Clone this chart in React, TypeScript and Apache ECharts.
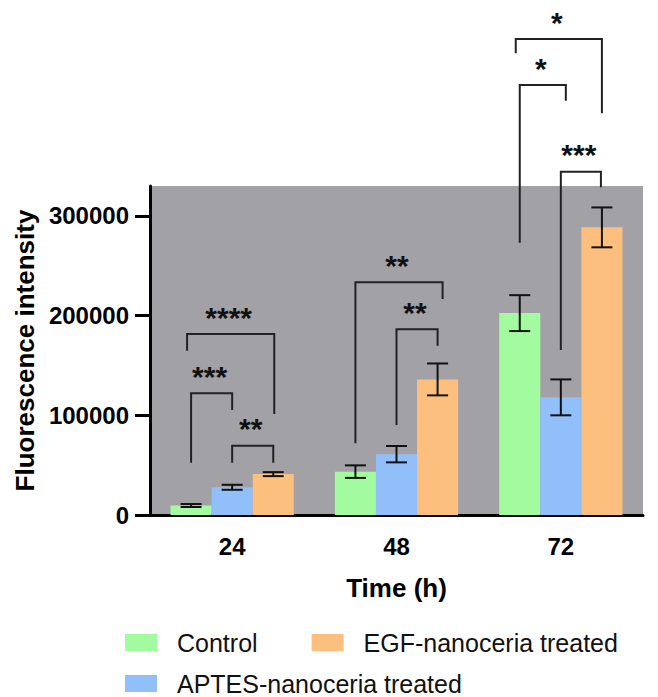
import React, { useEffect, useRef } from "react";
import * as echarts from "echarts";

const categories = ["24", "48", "72"];
const seriesNames = ["Control", "APTES-nanoceria treated", "EGF-nanoceria treated"];
const controlMean = [9500, 43500, 202500];
const controlSD = [1500, 6300, 18000];
const aptesMean = [27800, 61000, 118000];
const aptesSD = [2500, 8200, 18000];
const egfMean = [41000, 136000, 288500];
const egfSD = [2000, 16000, 20000];
const yTickValues = [0, 100000, 200000, 300000];
const colors = ["#a2fb9e", "#91bff9", "#fdbf7e"];

// significance brackets: group index, bar indices, heights (data units), label
const brackets = [
  { group: 0, from: 0, to: 1, top: 122000, leftEnd: 52500, rightEnd: 105300, label: "***", dl: 0, dr: 0 },
  { group: 0, from: 0, to: 2, top: 181500, leftEnd: 164800, rightEnd: 101300, label: "****", dl: -4, dr: 1 },
  { group: 0, from: 1, to: 2, top: 69500, leftEnd: 52500, rightEnd: 52500, label: "**", dl: 0, dr: 0 },
  { group: 1, from: 0, to: 2, top: 233400, leftEnd: 71900, rightEnd: 216600, label: "**", dl: 0, dr: 5 },
  { group: 1, from: 1, to: 2, top: 186300, leftEnd: 90300, rightEnd: 169800, label: "**", dl: 0, dr: 0 },
  { group: 2, from: 0, to: 1, top: 431300, leftEnd: 273100, rightEnd: 415500, label: "*", dl: 0, dr: 5 },
  { group: 2, from: 0, to: 2, top: 477400, leftEnd: 463100, rightEnd: 402900, label: "*", dl: -4, dr: 0 },
  { group: 2, from: 1, to: 2, top: 344300, leftEnd: 165500, rightEnd: 328700, label: "***", dl: 0, dr: -1 },
];

const FONT = '"Liberation Sans", Arial, sans-serif';

export default function App() {
  const ref = useRef<HTMLDivElement>(null);
  useEffect(() => {
    if (!ref.current) return;
    const chart = echarts.init(ref.current, null, { renderer: "svg" });
    const means = [controlMean, aptesMean, egfMean];
    const sds = [controlSD, aptesSD, egfSD];
    const errData: number[][] = [];
    means.forEach((m, s) => m.forEach((v, i) => errData.push([i, v, sds[s][i], s])));

    const barSeries = seriesNames.map((name, s) => ({
      name,
      type: "bar",
      data: means[s],
      itemStyle: { color: colors[s] },
      barGap: "0%",
      barCategoryGap: "25%",
      z: 2,
    }));

    const legendText = {
      fontSize: 25,
      lineHeight: 24,
      fontFamily: FONT,
      color: "#111",
      padding: [0, 0, 0, 15],
    };

    const option: any = {
      animation: false,
      grid: {
        left: 150,
        right: 15,
        top: 186,
        bottom: 182,
        show: true,
        backgroundColor: "#a2a1a6",
        borderWidth: 0,
      },
      legend: [
        {
          data: ["Control", "EGF-nanoceria treated"],
          left: 125,
          top: 630,
          padding: 0,
          icon: "rect",
          itemWidth: 32,
          itemHeight: 17,
          itemGap: 54,
          textStyle: legendText,
        },
        {
          data: ["APTES-nanoceria treated"],
          left: 125,
          top: 671,
          padding: 0,
          icon: "rect",
          itemWidth: 32,
          itemHeight: 17,
          textStyle: legendText,
        },
      ],
      xAxis: {
        type: "category",
        data: categories,
        name: "Time (h)",
        nameLocation: "middle",
        nameGap: 60,
        nameTextStyle: { fontSize: 26, fontWeight: "bold", fontFamily: FONT, color: "#000" },
        axisLine: { lineStyle: { color: "#000", width: 3 } },
        axisTick: { alignWithLabel: true, length: 15, lineStyle: { color: "#000", width: 3 } },
        axisLabel: { fontSize: 24, fontWeight: "bold", fontFamily: FONT, color: "#000", margin: 19 },
      },
      yAxis: {
        type: "value",
        min: 0,
        max: 330000,
        interval: 100000,
        name: "Fluorescence intensity",
        nameLocation: "middle",
        nameGap: 111,
        nameTextStyle: { fontSize: 26, fontWeight: "bold", fontFamily: FONT, color: "#000" },
        axisLine: { show: true, lineStyle: { color: "#000", width: 3 } },
        axisTick: {
          show: true,
          length: 15,
          customValues: yTickValues,
          lineStyle: { color: "#000", width: 3 },
        },
        axisLabel: {
          fontSize: 24,
          fontWeight: "bold",
          fontFamily: FONT,
          color: "#000",
          margin: 21,
          customValues: yTickValues,
          formatter: (v: number) => String(v),
        },
        splitLine: { show: false },
      },
      series: [
        ...barSeries,
        {
          type: "custom",
          name: "errors",
          coordinateSystem: "cartesian2d",
          data: errData,
          encode: { x: 0, y: 1 },
          z: 5,
          clip: false,
          renderItem: (params: any, api: any) => {
            const cat = api.value(0);
            const mean = api.value(1);
            const sd = api.value(2);
            const s = api.value(3);
            const band = api.size([1, 0])[0];
            const c = api.coord([cat, mean]);
            const x = c[0] + (s - 1) * band * 0.25;
            const yHi = api.coord([cat, mean + sd])[1];
            const yLo = api.coord([cat, mean - sd])[1];
            const hw = 10.5;
            const st = { stroke: "#111", lineWidth: 2 };
            return {
              type: "group",
              children: [
                { type: "line", shape: { x1: x, y1: yHi, x2: x, y2: yLo }, style: st },
                { type: "line", shape: { x1: x - hw, y1: yHi, x2: x + hw, y2: yHi }, style: st },
                { type: "line", shape: { x1: x - hw, y1: yLo, x2: x + hw, y2: yLo }, style: st },
              ],
            };
          },
        },
        {
          type: "custom",
          name: "significance",
          coordinateSystem: "cartesian2d",
          data: brackets.map((b, i) => [b.group, b.top, i]),
          encode: { x: 0, y: 1 },
          z: 6,
          clip: false,
          renderItem: (params: any, api: any) => {
            const b = brackets[params.dataIndex];
            const band = api.size([1, 0])[0];
            const c = api.coord([b.group, b.top]);
            const xL = c[0] + (b.from - 1) * band * 0.25 + b.dl;
            const xR = c[0] + (b.to - 1) * band * 0.25 + b.dr;
            const yTop = c[1];
            const yL = api.coord([b.group, b.leftEnd])[1];
            const yR = api.coord([b.group, b.rightEnd])[1];
            return {
              type: "group",
              children: [
                {
                  type: "polyline",
                  shape: { points: [[xL, yL], [xL, yTop], [xR, yTop], [xR, yR]] },
                  style: { stroke: "#222", lineWidth: 2, fill: null },
                },
                {
                  type: "text",
                  x: (xL + xR) / 2 - 2,
                  y: yTop - 17,
                  style: {
                    text: b.label,
                    font: `bold 30px ${FONT}`,
                    fill: "#111",
                    align: "center",
                    verticalAlign: "middle",
                  },
                },
              ],
            };
          },
        },
      ],
    };
    chart.setOption(option);
    return () => chart.dispose();
  }, []);
  return <div ref={ref} style={{ width: 658, height: 697, position: "absolute", left: 0, top: 0 }} />;
}
